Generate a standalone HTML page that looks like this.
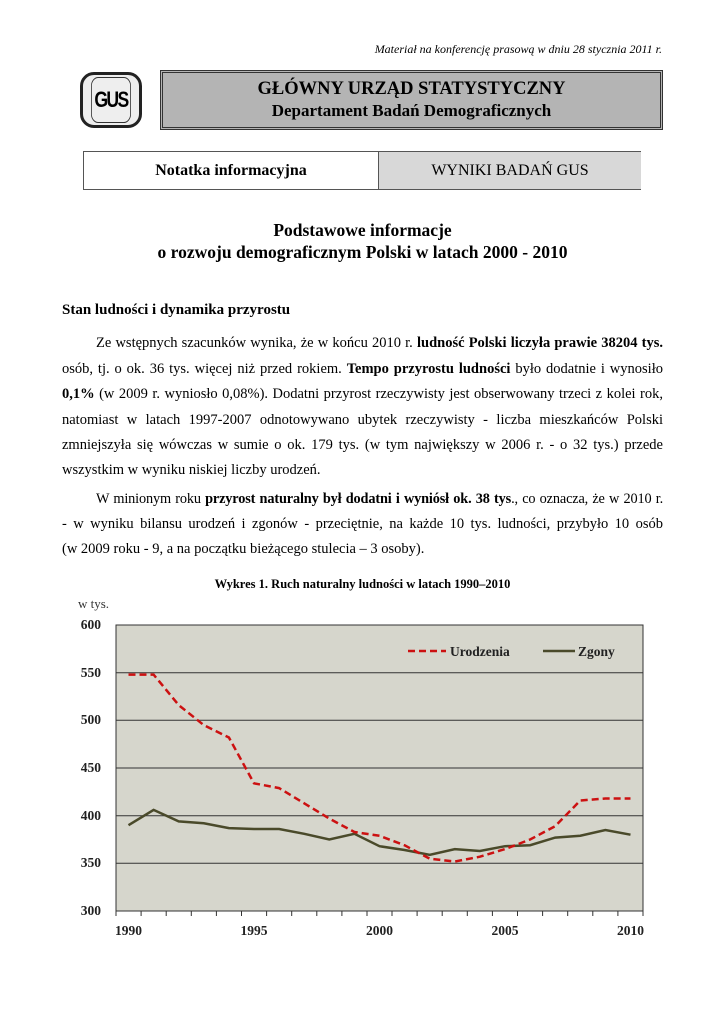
<!DOCTYPE html>
<html><head><meta charset="utf-8"><style>
body{margin:0;width:725px;height:1024px;background:#fff;position:relative;font-family:"Liberation Serif",serif;color:#000;overflow:hidden}
.a{position:absolute}
.ln{position:absolute;left:62px;width:601px;font-size:14.5px;text-align:justify;text-align-last:justify;white-space:nowrap;line-height:18px}
.ln.l{text-align-last:left}
</style></head><body>
<div class="a" style="right:63px;top:42px;font-size:12px;font-style:italic">Materiał na konferencję prasową w dniu 28 stycznia 2011 r.</div>

<div class="a" style="left:80px;top:72px;width:62px;height:56px;border:3px solid #222;border-radius:14px;box-sizing:border-box;background:#eee"></div>
<div class="a" style="left:86px;top:77px;width:50px;height:46px;border:1.5px solid #333;border-radius:9px;box-sizing:border-box;font:bold 22px 'Liberation Sans',sans-serif;text-align:center;line-height:44px;letter-spacing:-2px;transform:scaleX(.8)">GUS</div>

<div class="a" style="left:160px;top:70px;width:503px;height:60px;border:3px double #333;box-sizing:border-box;background:#b4b4b4;text-align:center">
<div style="font-weight:bold;font-size:18.5px;margin-top:5px;line-height:22px">GŁÓWNY URZĄD STATYSTYCZNY</div>
<div style="font-weight:bold;font-size:17px;line-height:22px">Departament Badań Demograficznych</div>
</div>

<div class="a" style="left:83px;top:151px;width:558px;height:39px;border:1px solid #555;box-sizing:border-box"></div>
<div class="a" style="left:378px;top:152px;width:262px;height:37px;background:#d8d8d8;border-left:1px solid #555;font-size:16px;line-height:37px;text-align:center">WYNIKI BADAŃ GUS</div>
<div class="a" style="left:84px;top:152px;width:294px;height:37px;font-size:16px;font-weight:bold;line-height:37px;text-align:center">Notatka informacyjna</div>

<div class="a" style="left:0;width:725px;top:219px;text-align:center;font-weight:bold;font-size:17.5px;line-height:22px">Podstawowe informacje<br>o rozwoju demograficznym Polski w latach 2000 - 2010</div>

<div class="a" style="left:62px;top:302px;font-weight:bold;font-size:15px">Stan ludności i dynamika przyrostu</div>

<div class="ln" style="top:334px;left:96px;width:567px">Ze wstępnych szacunków wynika, że w końcu 2010 r. <b>ludność Polski liczyła prawie 38204 tys.</b></div>
<div class="ln" style="top:360px">osób, tj. o ok. 36 tys. więcej niż przed rokiem. <b>Tempo przyrostu ludności</b> było dodatnie i wynosiło</div>
<div class="ln" style="top:385px"><b>0,1%</b> (w 2009 r. wyniosło 0,08%). Dodatni przyrost rzeczywisty jest obserwowany trzeci z kolei rok,</div>
<div class="ln" style="top:411px">natomiast w latach 1997-2007 odnotowywano ubytek rzeczywisty - liczba mieszkańców Polski</div>
<div class="ln" style="top:436px">zmniejszyła się wówczas w sumie o ok. 179 tys. (w tym największy w 2006 r. - o 32 tys.) przede</div>
<div class="ln l" style="top:461px">wszystkim w wyniku niskiej liczby urodzeń.</div>
<div class="ln" style="top:490px;left:96px;width:567px;letter-spacing:-0.15px;font-size:14.3px">W minionym roku <b>przyrost naturalny był dodatni i wyniósł ok. 38 tys</b>., co oznacza, że w 2010 r.</div>
<div class="ln" style="top:515px">- w wyniku bilansu urodzeń i zgonów - przeciętnie, na każde 10 tys. ludności, przybyło 10 osób</div>
<div class="ln l" style="top:540px">(w 2009 roku - 9, a na początku bieżącego stulecia – 3 osoby).</div>

<div class="a" style="left:0;width:725px;top:577px;text-align:center;font-weight:bold;font-size:12.5px">Wykres 1. Ruch naturalny ludności w latach 1990–2010</div>

<svg class="a" style="left:0;top:590px" width="725" height="360" viewBox="0 590 725 360" font-family="Liberation Serif, serif">
<text x="78" y="608" font-size="13" fill="#333">w tys.</text>
<rect x="116" y="625" width="527" height="286" fill="#d6d6cc"/>
<g stroke="#333" stroke-width="1">
<line x1="116" x2="643" y1="672.7" y2="672.7"/><line x1="116" x2="643" y1="720.3" y2="720.3"/>
<line x1="116" x2="643" y1="768" y2="768"/><line x1="116" x2="643" y1="815.7" y2="815.7"/>
<line x1="116" x2="643" y1="863.3" y2="863.3"/>
</g>
<rect x="116" y="625" width="527" height="286" fill="none" stroke="#333" stroke-width="1"/>
<path d="M116 911v5M141.1 911v5M166.2 911v5M191.3 911v5M216.4 911v5M241.5 911v5M266.6 911v5M291.7 911v5M316.8 911v5M341.9 911v5M367 911v5M392 911v5M417.1 911v5M442.2 911v5M467.3 911v5M492.4 911v5M517.5 911v5M542.6 911v5M567.7 911v5M592.8 911v5M617.9 911v5M643 911v5" stroke="#333"/>
<g font-size="13.5" fill="#222" text-anchor="end" font-weight="bold">
<text x="101" y="629">600</text><text x="101" y="677">550</text><text x="101" y="724">500</text>
<text x="101" y="772">450</text><text x="101" y="820">400</text><text x="101" y="867">350</text><text x="101" y="915">300</text>
</g>
<g font-size="13.5" fill="#222" text-anchor="middle" font-weight="bold">
<text x="128.5" y="935">1990</text><text x="254" y="935">1995</text><text x="379.5" y="935">2000</text><text x="505" y="935">2005</text><text x="630.5" y="935">2010</text>
</g>
<polyline fill="none" stroke="#4a4a2a" stroke-width="2.5" points="128.5,825.2 153.6,809.9 178.7,821.4 203.8,823.3 228.9,828.1 254,829 279.1,829 304.2,833.8 329.3,839.5 354.4,833.8 379.5,846.2 404.6,850 429.7,854.8 454.8,849.1 479.9,851 505,846.2 530.1,845.2 555.2,837.6 580.3,835.7 605.4,830 630.5,834.7"/>
<polyline fill="none" stroke="#cc1111" stroke-width="2.5" stroke-dasharray="7,4" points="128.5,674.6 153.6,674.6 178.7,705.1 203.8,725.1 228.9,737.5 254,783.3 279.1,788.1 304.2,803.3 329.3,818.6 354.4,832 379.5,835.8 404.6,845.3 429.7,858.7 454.8,861.5 479.9,856.7 505,849.1 530.1,839.5 555.2,826.2 580.3,800.5 605.4,798.5 630.5,798.5"/>
<line x1="408" x2="446" y1="651" y2="651" stroke="#cc1111" stroke-width="2.5" stroke-dasharray="7,4"/>
<text x="450" y="656" font-size="13.5" fill="#222" font-weight="bold">Urodzenia</text>
<line x1="543" x2="575" y1="651" y2="651" stroke="#4a4a2a" stroke-width="2.5"/>
<text x="578" y="656" font-size="13.5" fill="#222" font-weight="bold">Zgony</text>
</svg>
</body></html>
